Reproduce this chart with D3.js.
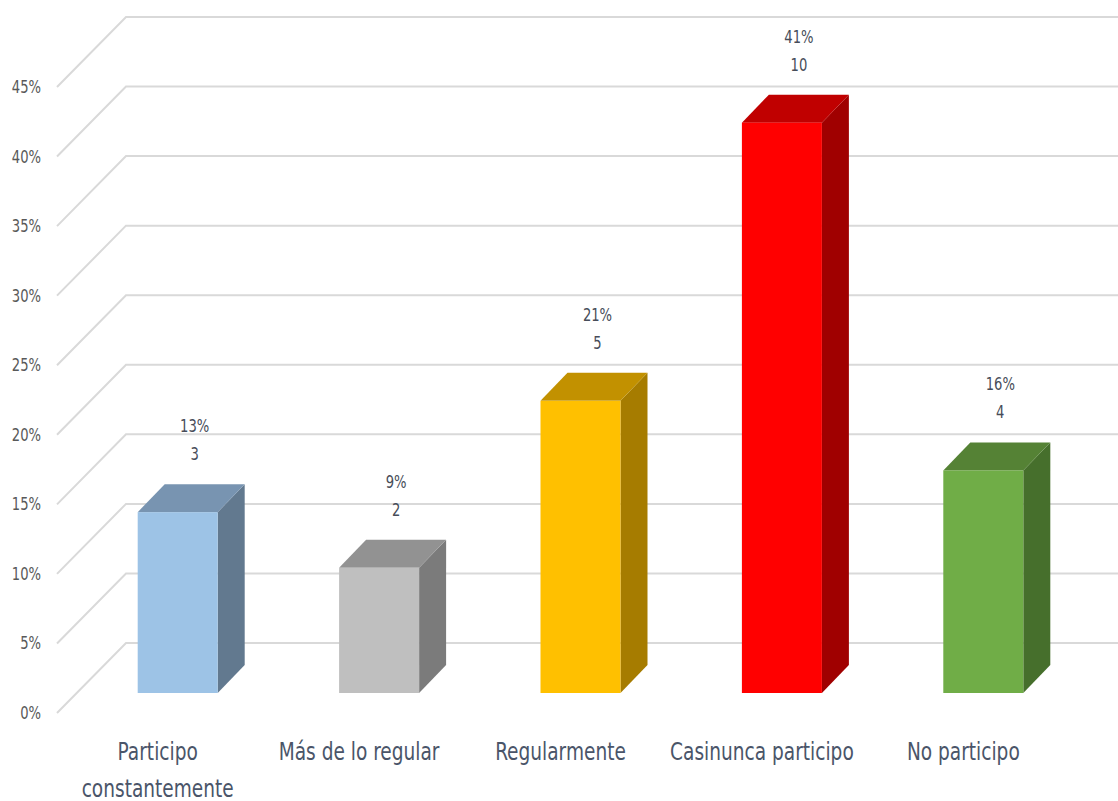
<!DOCTYPE html>
<html>
<head>
<meta charset="utf-8">
<script src="https://cdn.jsdelivr.net/npm/d3@7"></script>
<style>
  body { margin: 0; background: #fff; }
  text { font-family: "DejaVu Sans Condensed", "Roboto", sans-serif; }
</style>
</head>
<body>
<div id="chart"></div>
<script>
// data
const categories = ['Participo constantemente', 'Más de lo regular', 'Regularmente', 'Casinunca participo', 'No participo']
const percents = [13, 9, 21, 41, 16]
const counts = [3, 2, 5, 10, 4]
const yTicks = [0, 5, 10, 15, 20, 25, 30, 35, 40, 45]

// colours: front, top, side
const fronts = ['#9dc3e6', '#bfbfbf', '#ffc000', '#ff0000', '#70ad47']
const tops = ['#7894b1', '#929292', '#c29100', '#c00000', '#558235']
const sides = ['#62798f', '#7b7b7b', '#a67c00', '#a00000', '#466f2c']

const width = 1118
const height = 801

// depth offsets of the fake 3d
const floorDx = 69, floorDy = 70
const barFx = 20, barFy = 20
const barDx = 27, barDy = 28
// squeeze text to look like a narrow font
const squeeze = 0.86

const svg = d3.select('#chart')
  .append('svg')
  .attr('width', width)
  .attr('height', height)

const x = d3.scaleBand()
  .domain(categories)
  .range([57, 1064])

const y = d3.scaleLinear()
  .domain([0, 45])
  .range([713, 87])

function label(sel, tx, ty, txt, size, color) {
  return sel.append('text')
    .attr('transform', 'translate(' + tx + ',' + ty + ') scale(' + squeeze + ',1)')
    .attr('text-anchor', 'middle')
    .style('font-size', size + 'px')
    .style('fill', color)
    .text(txt)
}

// gridlines: diagonal on the left wall, then across the back wall
svg.append('g')
  .selectAll('path')
  .data(yTicks)
  .enter()
  .append('path')
  .attr('d', d => 'M57,' + y(d) + 'L' + (57 + floorDx) + ',' + (y(d) - floorDy) + 'L' + width + ',' + (y(d) - floorDy))
  .attr('fill', 'none')
  .attr('stroke', '#d9d9d9')
  .attr('stroke-width', 2)

// tick labels
const ticks = svg.append('g')
yTicks.forEach(d => {
  label(ticks, 41, y(d) + 6, d + '%', 17, '#595959').attr('text-anchor', 'end')
})

const bw = 80
const cx = c => x(c) + x.bandwidth() / 2

const bars = svg.append('g')
  .selectAll('g')
  .data(categories)
  .enter()
  .append('g')

bars.each(function(c, i) {
  const g = d3.select(this)
  const x0 = cx(c) + barFx - bw / 2
  const x1 = x0 + bw
  const yb = y(0) - barFy
  const yt = y(percents[i]) - barFy

  // side
  g.append('path')
    .attr('d', 'M' + x1 + ',' + yb + 'L' + (x1 + barDx) + ',' + (yb - barDy) + 'L' + (x1 + barDx) + ',' + (yt - barDy) + 'L' + x1 + ',' + yt + 'Z')
    .attr('fill', sides[i])
  // top
  g.append('path')
    .attr('d', 'M' + x0 + ',' + yt + 'L' + (x0 + barDx) + ',' + (yt - barDy) + 'L' + (x1 + barDx) + ',' + (yt - barDy) + 'L' + x1 + ',' + yt + 'Z')
    .attr('fill', tops[i])
  // front
  g.append('rect')
    .attr('x', x0)
    .attr('y', yt)
    .attr('width', bw)
    .attr('height', yb - yt)
    .attr('fill', fronts[i])

  // data labels
  const lx = cx(c) + barFx + 17
  const ly = yt - barDy
  label(g, lx, ly - 52, percents[i] + '%', 17, '#474d59')
  label(g, lx, ly - 24, counts[i], 17, '#474d59')
})

// category labels
const catLines = {
  'Participo constantemente': ['Participo', 'constantemente']
}

categories.forEach(d => {
  const lines = catLines[d] || [d]
  lines.forEach((l, j) => {
    label(svg, cx(d), 760 + j * 37, l, 24, '#4a5569')
  })
})
</script>
</body>
</html>
